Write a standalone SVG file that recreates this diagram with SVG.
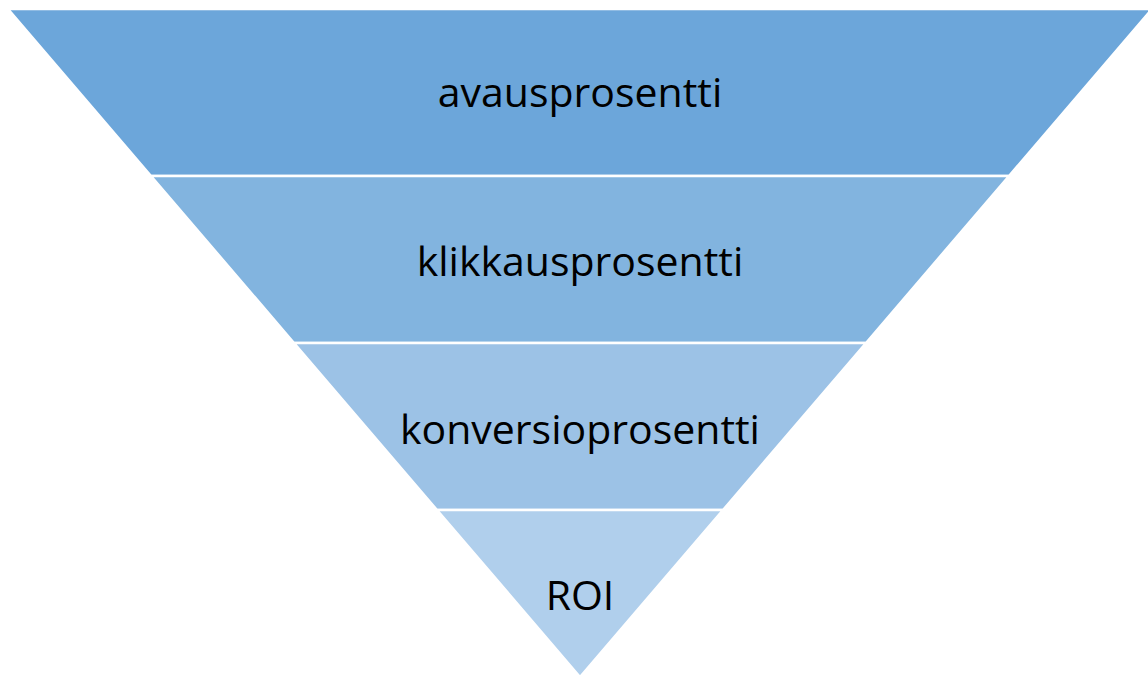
<svg xmlns="http://www.w3.org/2000/svg" width="1148" height="677" viewBox="0 0 1148 677">
<style>
.band{stroke:#FFFFFF;stroke-width:2.5;stroke-linejoin:miter}
.lbl{font-family:"Open Sans","Liberation Sans",sans-serif;font-size:41px;fill:#000000;text-anchor:middle;font-variant-ligatures:none}
</style>
<rect width="1148" height="677" fill="#FFFFFF"/>
<g id="band1"><polygon class="band" fill="#6CA6DA" points="8,9 1152,9 1009,176 151,176"/><text class="lbl" x="580" y="107">avausprosentti</text></g>
<g id="band2"><polygon class="band" fill="#82B4DF" points="151,176 1009,176 866,343 294,343"/><text class="lbl" x="580" y="276">klikkausprosentti</text></g>
<g id="band3"><polygon class="band" fill="#9CC2E6" points="294,343 866,343 723,510 437,510"/><text class="lbl" x="580" y="444">konversioprosentti</text></g>
<g id="band4"><polygon class="band" fill="#B0CFEC" points="437,510 723,510 580,677"/><text class="lbl" x="580" y="610">ROI</text></g>
<g id="connectors"/>
</svg>
